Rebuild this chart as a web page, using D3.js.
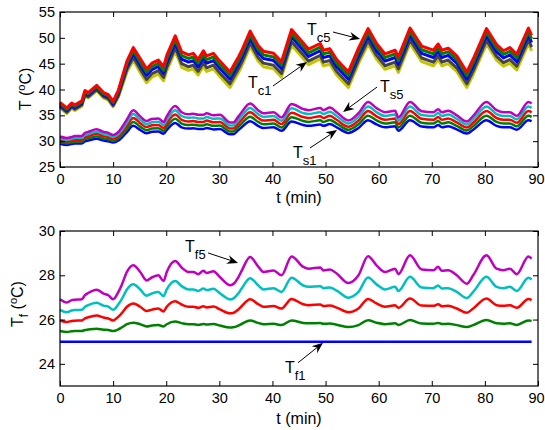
<!DOCTYPE html>
<html><head><meta charset="utf-8">
<script src="https://cdn.jsdelivr.net/npm/d3@7"></script>
<style>body{margin:0;background:#fff} svg{display:block} text{font-family:"Liberation Sans",Arial,Helvetica,sans-serif}</style>
</head><body><svg id="c" width="545" height="430"></svg>
<script>
// time axis (min)
const timeMin = [0,1.3,2.2,2.8,4.1,4.7,5.3,6.9,8.2,9.1,10.0,11.0,11.6,12.6,13.8,15.1,16.3,17.3,18.5,19.5,20.1,21.7,22.9,24.2,25.1,26.0,27.0,27.6,28.9,30.1,32.0,32.6,33.6,34.2,35.8,37.3,38.3,40.2,41.7,43.6,45.8,46.8,49.0,49.6,50.8,52.1,54.3,56.2,58.0,59.6,61.2,63.1,63.7,65.9,68.1,70.3,71.2,71.9,73.1,74.7,76.6,77.8,80.3,82.2,83.5,84.7,86.0,88.2,88.8];

// Tc series (top bundle)
const tc5 = [37.5,36.4,37.4,37.0,37.8,39.8,39.4,40.8,39.4,39.0,37.7,39.9,42.0,45.5,48.1,46.0,44.0,45.1,45.7,44.4,46.6,50.4,47.3,46.7,47.0,45.8,47.5,46.5,47.0,45.5,43.4,44.5,46.3,47.5,51.3,48.5,47.4,47.0,45.4,51.6,49.0,47.8,48.9,47.6,47.9,45.8,43.4,48.0,51.8,48.9,46.9,47.6,46.3,51.9,48.4,47.6,48.8,47.6,48.0,46.5,43.4,45.9,51.8,48.7,47.5,48.1,46.8,51.9,50.5];
const tc4 = [37.25,36.15,37.15,36.75,37.55,39.55,39.15,40.55,39.15,38.75,37.45,39.6,41.6,45.0,47.55,45.35,43.35,44.45,45.05,43.75,45.9,49.7,46.6,46.0,46.3,45.1,46.8,45.8,46.3,44.8,42.7,43.8,45.6,46.8,50.6,47.8,46.7,46.3,44.7,50.9,48.3,47.1,48.2,46.9,47.2,45.1,42.7,47.3,51.1,48.2,46.2,46.9,45.6,51.2,47.7,46.9,48.1,46.9,47.3,45.8,42.7,45.2,51.1,48.0,46.8,47.4,46.1,51.2,49.8];
const tc3 = [37.0,35.9,36.9,36.5,37.3,39.3,38.9,40.3,38.9,38.5,37.2,39.25,41.25,44.5,47.0,44.75,42.75,43.85,44.45,43.15,45.2,49.0,45.9,45.3,45.6,44.4,46.1,45.1,45.6,44.1,42.0,43.1,44.9,46.1,49.9,47.1,46.0,45.6,44.0,50.2,47.6,46.4,47.5,46.2,46.5,44.4,42.0,46.6,50.4,47.5,45.5,46.2,44.9,50.5,47.0,46.2,47.4,46.2,46.6,45.1,42.0,44.5,50.4,47.3,46.1,46.7,45.4,50.5,49.1];
const tc2 = [36.7,35.6,36.6,36.2,37.0,39.0,38.6,40.0,38.6,38.2,36.9,38.85,40.75,43.9,46.25,43.95,41.95,43.05,43.65,42.35,44.3,48.1,45.0,44.4,44.7,43.5,45.2,44.2,44.7,43.2,41.1,42.2,44.0,45.2,49.0,46.2,45.1,44.7,43.1,49.3,46.7,45.5,46.6,45.3,45.6,43.5,41.1,45.7,49.5,46.6,44.6,45.3,44.0,49.6,46.1,45.3,46.5,45.3,45.7,44.2,41.1,43.6,49.5,46.4,45.2,45.8,44.5,49.6,48.2];
const tc1 = [36.45,35.35,36.35,35.95,36.75,38.75,38.35,39.75,38.35,37.95,36.65,38.55,40.35,43.4,45.7,43.3,41.3,42.4,43.0,41.7,43.6,47.4,44.3,43.7,44.0,42.8,44.5,43.5,44.0,42.5,40.4,41.5,43.3,44.5,48.3,45.5,44.4,44.0,42.4,48.6,46.0,44.8,45.9,44.6,44.9,42.8,40.4,45.0,48.8,45.9,43.9,44.6,43.3,48.9,45.4,44.6,45.8,44.6,45.0,43.5,40.4,42.9,48.8,45.7,44.5,45.1,43.8,48.9,47.5];

// Ts series
const ts5 = [30.9,30.6,30.8,31.0,31.0,31.6,31.8,32.3,31.8,31.6,31.2,31.8,32.6,34.2,36.0,34.8,33.9,34.3,34.4,33.7,34.8,36.8,35.6,35.2,35.3,35.1,35.1,35.4,35.0,35.1,33.6,33.6,34.8,35.6,37.3,36.0,35.4,35.6,34.6,37.2,36.2,36.0,36.4,36.0,36.5,35.6,34.0,35.4,37.6,36.4,35.6,35.9,34.6,37.6,35.8,35.6,36.2,35.6,35.9,35.0,33.8,34.9,37.6,36.0,35.6,35.6,34.9,37.6,37.3];
const ts4 = [30.55,30.27,30.46,30.64,30.64,31.19,31.38,31.84,31.38,31.19,30.83,31.38,32.11,33.59,35.24,34.14,33.31,33.68,33.77,33.13,34.14,35.98,34.87,34.51,34.6,34.41,34.41,34.69,34.32,34.41,33.03,33.03,34.14,34.87,36.44,35.24,34.69,34.87,33.95,36.35,35.43,35.24,35.61,35.24,35.7,34.87,33.4,34.69,36.71,35.61,34.87,35.15,33.95,36.71,35.06,34.87,35.43,34.87,35.15,34.32,33.22,34.23,36.71,35.24,34.87,34.87,34.23,36.71,36.44];
const ts3 = [30.2,29.94,30.12,30.28,30.28,30.78,30.96,31.38,30.96,30.78,30.46,30.96,31.62,32.98,34.48,33.48,32.72,33.06,33.14,32.56,33.48,35.16,34.14,33.82,33.9,33.72,33.72,33.98,33.64,33.72,32.46,32.46,33.48,34.14,35.58,34.48,33.98,34.14,33.3,35.5,34.66,34.48,34.82,34.48,34.9,34.14,32.8,33.98,35.82,34.82,34.14,34.4,33.3,35.82,34.32,34.14,34.66,34.14,34.4,33.64,32.64,33.56,35.82,34.48,34.14,34.14,33.56,35.82,35.58];
const ts2 = [29.85,29.61,29.78,29.92,29.92,30.37,30.54,30.92,30.54,30.37,30.09,30.54,31.13,32.37,33.72,32.82,32.13,32.44,32.51,31.99,32.82,34.34,33.41,33.13,33.2,33.03,33.03,33.27,32.96,33.03,31.89,31.89,32.82,33.41,34.72,33.72,33.27,33.41,32.65,34.65,33.89,33.72,34.03,33.72,34.1,33.41,32.2,33.27,34.93,34.03,33.41,33.65,32.65,34.93,33.58,33.41,33.89,33.41,33.65,32.96,32.06,32.89,34.93,33.72,33.41,33.41,32.89,34.93,34.72];
const ts1 = [29.5,29.28,29.44,29.56,29.56,29.96,30.12,30.46,30.12,29.96,29.72,30.12,30.64,31.76,32.96,32.16,31.54,31.82,31.88,31.42,32.16,33.52,32.68,32.44,32.5,32.34,32.34,32.56,32.28,32.34,31.32,31.32,32.16,32.68,33.86,32.96,32.56,32.68,32.0,33.8,33.12,32.96,33.24,32.96,33.3,32.68,31.6,32.56,34.04,33.24,32.68,32.9,32.0,34.04,32.84,32.68,33.12,32.68,32.9,32.28,31.48,32.22,34.04,32.96,32.68,32.68,32.22,34.04,33.86];

// Tf series (bottom panel)
const tf5 = [26.92,26.77,26.88,26.9,26.92,27.1,27.2,27.35,27.17,27.1,26.92,27.25,27.55,28.15,28.45,28.15,27.77,27.9,28.0,27.74,28.15,28.65,28.35,28.15,28.15,28.05,28.2,28.1,28.18,27.92,27.55,27.6,27.92,28.2,28.83,28.4,28.15,28.22,28.0,28.85,28.38,28.3,28.35,28.22,28.26,28.08,27.65,28.0,28.86,28.45,28.15,28.3,28.05,28.9,28.26,28.23,28.38,28.2,28.23,28.0,27.62,28.0,28.9,28.3,28.23,28.3,28.05,28.85,28.75];
const tf4 = [26.44,26.33,26.41,26.43,26.44,26.58,26.65,26.76,26.63,26.58,26.44,26.69,26.91,27.36,27.59,27.36,27.08,27.18,27.25,27.06,27.36,27.74,27.51,27.36,27.36,27.29,27.4,27.33,27.39,27.19,26.91,26.95,27.19,27.4,27.87,27.55,27.36,27.42,27.25,27.89,27.54,27.48,27.51,27.42,27.45,27.31,26.99,27.25,27.9,27.59,27.36,27.48,27.29,27.93,27.45,27.42,27.54,27.4,27.42,27.25,26.97,27.25,27.93,27.48,27.42,27.48,27.29,27.89,27.81];
const tf3 = [25.96,25.89,25.94,25.95,25.96,26.05,26.1,26.18,26.09,26.05,25.96,26.13,26.28,26.58,26.73,26.58,26.39,26.45,26.5,26.37,26.58,26.83,26.68,26.58,26.58,26.53,26.6,26.55,26.59,26.46,26.28,26.3,26.46,26.6,26.92,26.7,26.58,26.61,26.5,26.93,26.69,26.65,26.68,26.61,26.63,26.54,26.33,26.5,26.93,26.73,26.58,26.65,26.53,26.95,26.63,26.62,26.69,26.6,26.62,26.5,26.31,26.5,26.95,26.65,26.62,26.65,26.53,26.93,26.88];
const tf2 = [25.48,25.44,25.47,25.48,25.48,25.53,25.55,25.59,25.54,25.53,25.48,25.56,25.64,25.79,25.86,25.79,25.69,25.73,25.75,25.69,25.79,25.91,25.84,25.79,25.79,25.76,25.8,25.78,25.8,25.73,25.64,25.65,25.73,25.8,25.96,25.85,25.79,25.81,25.75,25.96,25.85,25.83,25.84,25.81,25.82,25.77,25.66,25.75,25.97,25.86,25.79,25.83,25.76,25.98,25.82,25.81,25.85,25.8,25.81,25.75,25.66,25.75,25.98,25.83,25.81,25.83,25.76,25.96,25.94];
const tf1Time = [0, 88.8];
const tf1 = [25, 25];

const xTicks = [0,10,20,30,40,50,60,70,80,90];
const yTopTicks = [25,30,35,40,45,50,55];
const yBotTicks = [24,26,28,30];

const svg = d3.select('#c');
const L = 60, R = 538;
const x = d3.scaleLinear().domain([0,90]).range([L,R]);
const yTop = d3.scaleLinear().domain([25,55]).range([167,12]);
const yBot = d3.scaleLinear().domain([23,30]).range([386,231]);
const fmt = d3.format('d');

function axes(y, yTicks, top, bottom) {
  const g = svg.append('g');
  const ax = g.append('g').attr('transform',`translate(0,${bottom})`)
    .call(d3.axisBottom(x).tickValues(xTicks).tickFormat(fmt).tickSize(-5).tickSizeOuter(0).tickPadding(7));
  ax.selectAll('.tick text').filter(d=>d===90).attr('dx',-2);
  g.append('g').attr('transform',`translate(0,${top})`)
    .call(d3.axisTop(x).tickValues(xTicks).tickSize(-5).tickSizeOuter(0).tickFormat(''));
  g.append('g').attr('transform',`translate(${L},0)`)
    .call(d3.axisLeft(y).tickValues(yTicks).tickFormat(fmt).tickSize(-5).tickSizeOuter(0).tickPadding(5));
  g.append('g').attr('transform',`translate(${R},0)`)
    .call(d3.axisRight(y).tickValues(yTicks).tickSize(-5).tickSizeOuter(0).tickFormat(''));
  g.selectAll('.domain').remove();
  g.selectAll('.tick line').attr('stroke','#000');
  g.selectAll('text').attr('font-size',14.5).attr('fill','#000')
    .attr('font-family','"Liberation Sans",Arial,sans-serif');
  svg.append('rect').attr('x',L).attr('y',top).attr('width',R-L).attr('height',bottom-top)
    .attr('fill','none').attr('stroke','#000').attr('stroke-width',1.2);
}

function drawLine(ts, vals, y, color, w, curve) {
  const line = d3.line().x((d,i)=>x(ts[i])).y(d=>y(d)).curve(curve || d3.curveLinear);
  svg.append('path').datum(vals).attr('d',line).attr('fill','none')
    .attr('stroke',color).attr('stroke-width',w).attr('stroke-linejoin','round');
}

// top panel
const tcSeries = [[tc1,'#c4c400'],[tc2,'#444444'],[tc3,'#0000ff'],[tc4,'#008000'],[tc5,'#ff0000']];
tcSeries.forEach(([v,c])=>drawLine(timeMin, v, yTop, c, 3));
const tsSeries = [[ts1,'#0000ff'],[ts2,'#008000'],[ts3,'#ff0000'],[ts4,'#00bfbf'],[ts5,'#bf00bf']];
tsSeries.forEach(([v,c])=>drawLine(timeMin, v, yTop, c, 2.5, d3.curveMonotoneX));
axes(yTop, yTopTicks, 12, 167);

// bottom panel
drawLine(tf1Time, tf1, yBot, '#0000ff', 2.5);
const tfSeries = [[tf2,'#008000'],[tf3,'#ff0000'],[tf4,'#00bfbf'],[tf5,'#bf00bf']];
tfSeries.forEach(([v,c])=>drawLine(timeMin, v, yBot, c, 2.5, d3.curveMonotoneX));
axes(yBot, yBotTicks, 231, 386);

// axis labels
function xlabel(yPos) {
  svg.append('text').attr('x',(L+R)/2).attr('y',yPos).attr('text-anchor','middle')
    .attr('font-size',16).text('t (min)');
}
xlabel(203);
xlabel(424);

function ylabel(xPos, yPos, sub) {
  const t = svg.append('text').attr('transform',`translate(${xPos},${yPos}) rotate(-90)`)
    .attr('text-anchor','middle').attr('font-size',16);
  t.append('tspan').text('T');
  if (sub) t.append('tspan').attr('font-size',12).attr('dy',5).text(sub);
  t.append('tspan').attr('dy', sub ? -5 : 0).text('\u00a0(');
  t.append('tspan').attr('font-size',11).attr('dy',-6).text('o');
  t.append('tspan').attr('dy',6).text('C)');
}
ylabel(31, 89, null);
ylabel(23, 304, 'f');

// annotations
function label(xs, ys, sub) {
  const t = svg.append('text').attr('x',xs).attr('y',ys).attr('font-size',16);
  t.append('tspan').text('T');
  t.append('tspan').attr('font-size',13).attr('dy',7).text(sub);
}
function arrow(x1,y1,x2,y2) {
  const dx=x2-x1, dy=y2-y1, len=Math.hypot(dx,dy), ux=dx/len, uy=dy/len;
  const Lh=11, W=4.5, N=7.5;
  const bx=x2-ux*Lh, by=y2-uy*Lh, nx=x2-ux*N, ny=y2-uy*N;
  svg.append('line').attr('x1',x1).attr('y1',y1).attr('x2',nx).attr('y2',ny)
    .attr('stroke','#000').attr('stroke-width',1);
  svg.append('path').attr('d',`M${x2},${y2}L${bx-uy*W},${by+ux*W}L${nx},${ny}L${bx+uy*W},${by-ux*W}Z`)
    .attr('fill','#000');
}
// top-panel annotations (data coordinates)
label(x(46.5), yTop(50.55), 'c5');
arrow(x(51.4), yTop(51.13), x(56.5), yTop(49.77));
label(x(35.4), yTop(40.3), 'c1');
arrow(x(40.1), yTop(40.68), x(46.5), yTop(45.32));
label(x(60.25), yTop(39.52), 's5');
arrow(x(59.7), yTop(40.48), x(53.3), yTop(35.65));
label(x(43.87), yTop(26.74), 's1');
arrow(x(47.07), yTop(28.68), x(52.16), yTop(32.16));
// bottom-panel annotations
label(x(23.54), yBot(29.05), 'f5');
arrow(x(27.87), yBot(29.01), x(33.52), yBot(28.56));
label(x(42.36), yBot(23.6), 'f1');
arrow(x(44.81), yBot(24.05), x(49.52), yBot(24.95));
</script></body></html>
